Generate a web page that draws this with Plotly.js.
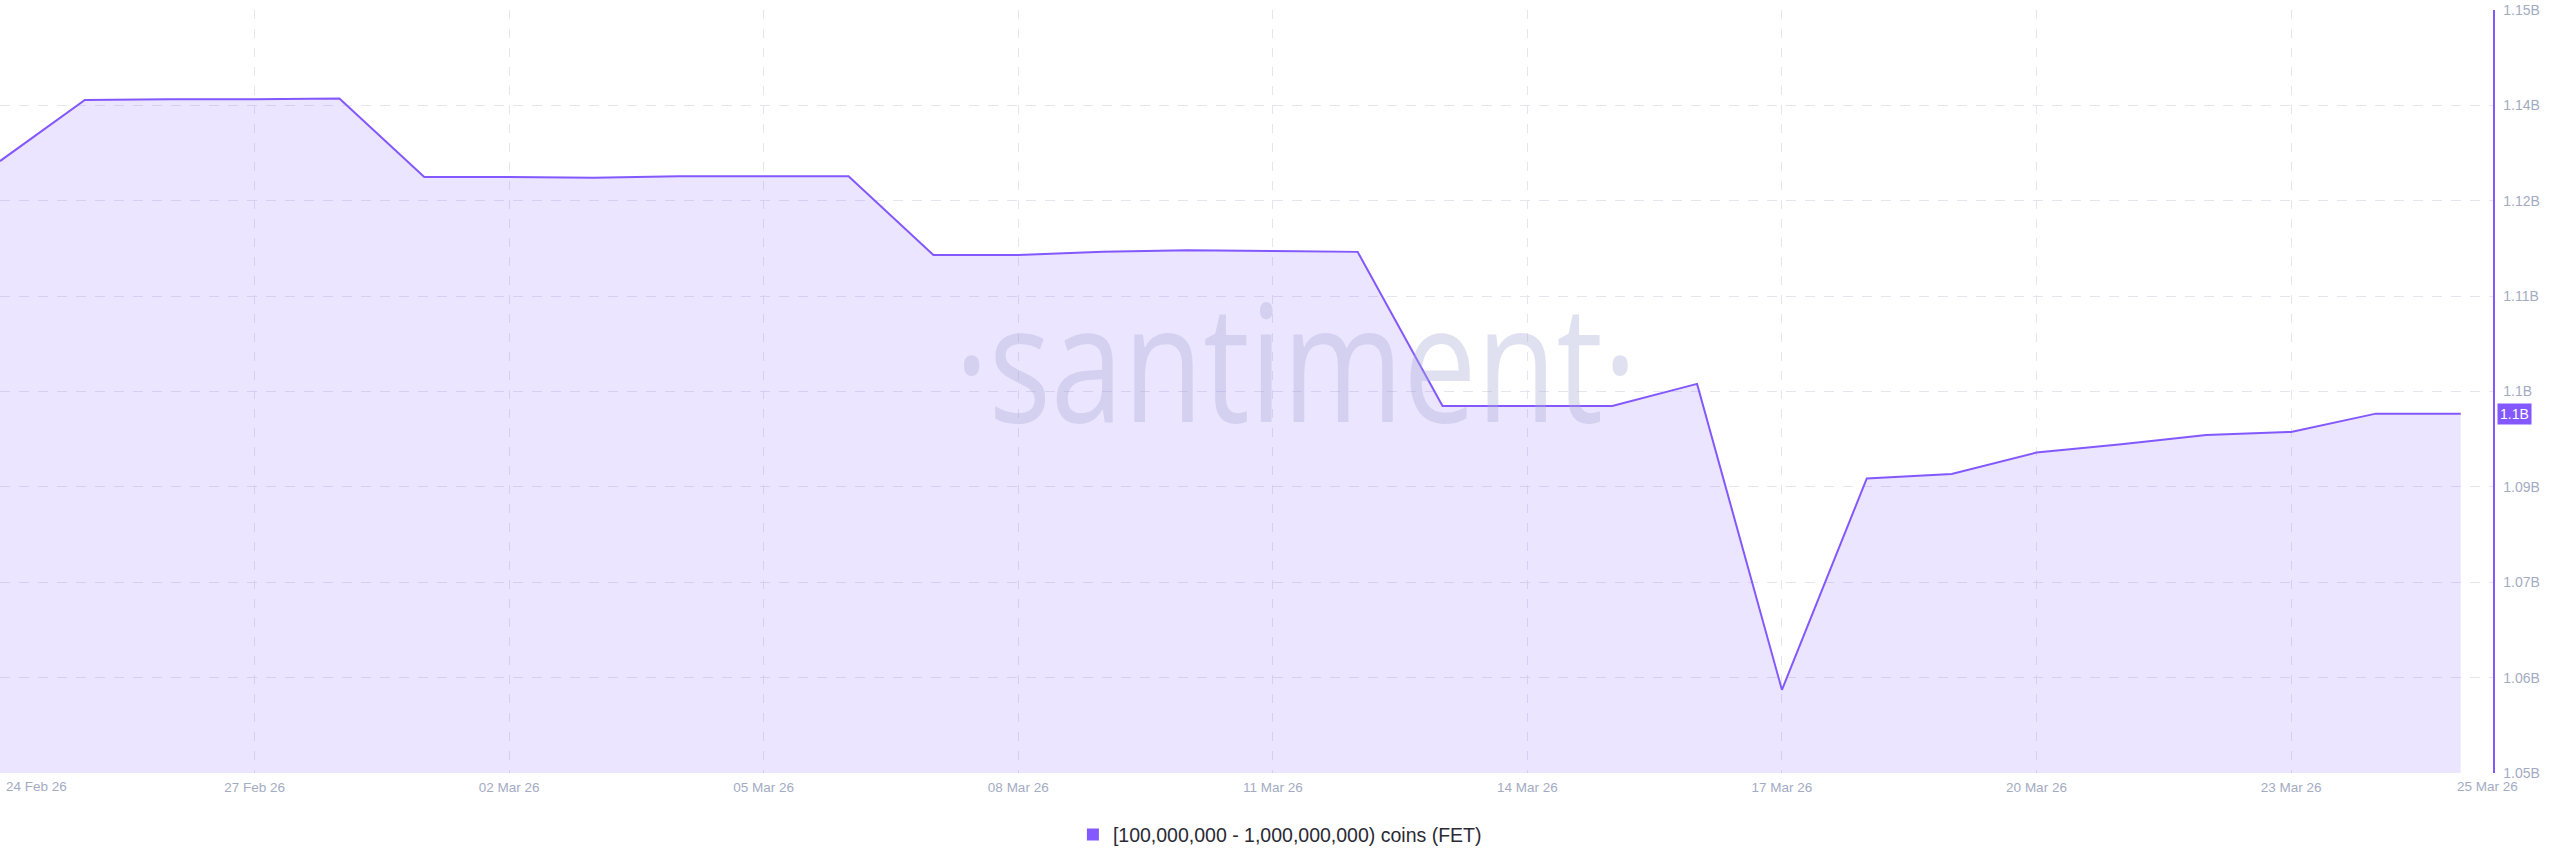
<!DOCTYPE html>
<html>
<head>
<meta charset="utf-8">
<script src="https://cdn.plot.ly/plotly-3.0.1.min.js"></script>
<style>
  html, body { margin: 0; padding: 0; background: #ffffff; }
  #chart { width: 2560px; height: 867px; }
  g.annotation[data-index="0"] text {
    transform: scaleX(0.8);
    transform-box: fill-box;
    transform-origin: center;
  }
</style>
</head>
<body>
<div id="chart"></div>
<script>
// ---- data ----
const dates = [
  '2026-02-24','2026-02-25','2026-02-26','2026-02-27','2026-02-28',
  '2026-03-01','2026-03-02','2026-03-03','2026-03-04','2026-03-05',
  '2026-03-06','2026-03-07','2026-03-08','2026-03-09','2026-03-10',
  '2026-03-11','2026-03-12','2026-03-13','2026-03-14','2026-03-15',
  '2026-03-16','2026-03-17','2026-03-18','2026-03-19','2026-03-20',
  '2026-03-21','2026-03-22','2026-03-23','2026-03-24','2026-03-25'
];
const holdings = [
  1.1302e9, 1.1382e9, 1.1383e9, 1.1383e9, 1.1384e9,
  1.1281e9, 1.1281e9, 1.1280e9, 1.1282e9, 1.1282e9,
  1.1282e9, 1.1179e9, 1.1179e9, 1.1183e9, 1.1185e9,
  1.1184e9, 1.1183e9, 1.0981e9, 1.0981e9, 1.0981e9,
  1.1010e9, 1.0609e9, 1.0886e9, 1.0892e9, 1.0920e9,
  1.0931e9, 1.0943e9, 1.0947e9, 1.0971e9, 1.0971e9
];
const seriesName = '[100,000,000 - 1,000,000,000) coins (FET)';

const xTickDates = ['2026-02-24','2026-02-27','2026-03-02','2026-03-05','2026-03-08',
                    '2026-03-11','2026-03-14','2026-03-17','2026-03-20','2026-03-23'];
const xTickLabels = ['24 Feb 26','27 Feb 26','02 Mar 26','05 Mar 26','08 Mar 26',
                     '11 Mar 26','14 Mar 26','17 Mar 26','20 Mar 26','23 Mar 26'];
const xEndLabel = '25 Mar 26';
const xRange = ['2026-02-24 00:00', '2026-03-25 09:07'];

const yTickVals = [1.05e9, 1.0625e9, 1.075e9, 1.0875e9, 1.1e9, 1.1125e9, 1.125e9, 1.1375e9, 1.15e9];
const yTickLabels = ['1.05B','1.06B','1.07B','1.09B','1.1B','1.11B','1.12B','1.14B','1.15B'];
const yRange = [1.05e9, 1.15e9];
const lastValueLabel = '1.1B';
const watermarkText = '\u00B7santiment\u00B7';

// ---- styling ----
const purple = '#8358ff';
const tickColor = '#a3abc3';
const gridColor = '#e4e5ef';
const baseFont = 'Liberation Sans, Arial, Helvetica, sans-serif';

const traces = [
  {
    type: 'scatter', mode: 'lines',
    x: dates, y: holdings,
    line: { color: purple, width: 2 },
    fill: 'tozeroy', fillcolor: 'rgba(131,88,255,0.155)',
    showlegend: false, hoverinfo: 'x+y', name: seriesName
  },
  {
    // legend proxy (square swatch), no visible mark
    type: 'scatter', mode: 'markers',
    x: [dates[0]], y: [null],
    marker: { symbol: 'square', size: 12, color: purple },
    name: seriesName, showlegend: true, hoverinfo: 'skip'
  }
];

const layout = {
  width: 2560, height: 867,
  margin: { l: 0, r: 67, t: 10, b: 94, pad: 0 },
  paper_bgcolor: '#ffffff', plot_bgcolor: '#ffffff',
  showlegend: true,
  legend: {
    orientation: 'h', x: 0.5134, xanchor: 'center', y: -0.081, yanchor: 'middle',
    font: { family: baseFont, size: 19.5, color: '#2a2a35' },
    itemsizing: 'constant', bgcolor: 'rgba(0,0,0,0)'
  },
  xaxis: {
    type: 'date', range: xRange,
    tickmode: 'array', tickvals: xTickDates,
    ticktext: xTickLabels.map((t, i) => i === 0 ? '' : t),
    ticks: '', showline: false, zeroline: false,
    showgrid: true, gridcolor: gridColor, griddash: '9px,10px', gridwidth: 1,
    tickfont: { family: baseFont, size: 13.5, color: tickColor },
    ticklabelstandoff: 4, fixedrange: true
  },
  yaxis: {
    range: yRange, side: 'right',
    tickmode: 'array', tickvals: yTickVals, ticktext: yTickLabels,
    ticks: '', showline: true, linecolor: purple, linewidth: 1.5,
    zeroline: false,
    showgrid: true, gridcolor: gridColor, griddash: '10px,9px', gridwidth: 1,
    tickfont: { family: baseFont, size: 14, color: tickColor },
    ticklabelstandoff: 6, fixedrange: true
  },
  annotations: [
    {
      text: watermarkText, xref: 'paper', yref: 'paper', x: 0.52, y: 0.542,
      xanchor: 'center', yanchor: 'middle', showarrow: false,
      font: { family: 'Open Sans, sans-serif', size: 163, color: 'rgba(165,172,214,0.36)' }
    },
    {
      text: xTickLabels[0], xref: 'x', x: xTickDates[0], yref: 'paper', y: 0,
      xanchor: 'left', yanchor: 'top', xshift: 4, yshift: -4, showarrow: false,
      font: { family: baseFont, size: 13.5, color: tickColor }
    },
    {
      text: xEndLabel, xref: 'x', x: dates[dates.length - 1], yref: 'paper', y: 0,
      xanchor: 'center', yanchor: 'top', xshift: 27, yshift: -4, showarrow: false,
      font: { family: baseFont, size: 13.5, color: tickColor }
    },
    {
      text: lastValueLabel, xref: 'paper', x: 1, yref: 'y', y: holdings[holdings.length - 1],
      xanchor: 'left', yanchor: 'middle', xshift: 4, showarrow: false,
      bgcolor: purple, borderpad: 2,
      font: { family: baseFont, size: 14, color: '#ffffff' }
    }
  ]
};

Plotly.newPlot('chart', traces, layout, { displayModeBar: false, staticPlot: true });
</script>
</body>
</html>
